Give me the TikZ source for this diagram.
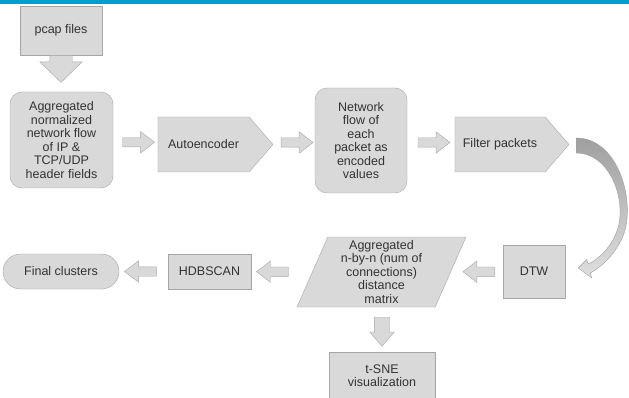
\documentclass[tikz,border=0pt]{standalone}
\usepackage{fontspec}
\setmainfont{Liberation Sans}
\usetikzlibrary{shapes.arrows, shapes.symbols, shapes.geometric, calc}
\definecolor{topbar}{RGB}{0,158,206}
\tikzset{
    box/.style={draw=gray!70, fill=gray!30, text=black!80, align=center, inner sep=1pt}, % plain step box
    roundbox/.style={box, rounded corners=12pt},
    signalbox/.style={box, signal, signal to=east, signal pointer angle=98, minimum width=115pt, minimum height=55pt},
    blk/.style={single arrow, draw=gray!70, fill=gray!30, text height=0pt, text depth=0pt, inner xsep=0pt, inner ysep=4.5pt, minimum height=32pt, single arrow head extend=6pt, single arrow tip angle=75}, % block arrow, points right
    blkleft/.style={blk, shape border rotate=180},
    blkdown/.style={blk, shape border rotate=270, minimum height=29pt, inner xsep=7.5pt, inner ysep=0pt, single arrow head extend=4.5pt, single arrow tip angle=81},
    bigdown/.style={blk, shape border rotate=270, minimum height=27pt, inner xsep=11pt, inner ysep=0pt, single arrow head extend=10pt, single arrow tip angle=92}
}

\begin{document}
\begin{tikzpicture}[x=1pt, y=-1pt, font=\fontsize{12.5}{13.5}\selectfont]
    \useasboundingbox (0,0) rectangle (629,398);
    \fill[topbar] (0,0) rectangle (629,4);

    % top row
    \node[box, minimum width=82pt, minimum height=49pt] (pcap) at (61,30.5) {pcap files};
    \node[roundbox, minimum width=103pt, minimum height=96pt] (agg) at (61.5,140) {Aggregated\\normalized\\network flow\\of IP \&\\TCP/UDP\\header fields};
    \node[signalbox] (auto) at (203.5,144.5) {Autoencoder};
    \node[roundbox, minimum width=92pt, minimum height=105pt] (net) at (361,140.5) {Network\\flow of\\each\\packet as\\encoded\\values};
    \node[signalbox, minimum width=114pt] (filter) at (500,144.5) {Filter packets};

    % bottom row
    \node[box, minimum width=62pt, minimum height=53pt] (dtw) at (534,271.5) {DTW};
    \node[box, trapezium, trapezium left angle=64, trapezium right angle=116, trapezium stretches body=true, minimum width=169pt, minimum height=70pt, inner sep=0pt] (matrix) at (381.5,272) {Aggregated\\n-by-n (num of\\connections)\\distance\\matrix};
    \node[box, minimum width=83pt, minimum height=35pt] (hdb) at (209.5,271.5) {HDBSCAN};
    \node[box, rounded corners=17.5pt, minimum width=116pt, minimum height=35pt] (final) at (61,271.5) {Final clusters};
    \node[box, minimum width=106pt, minimum height=47pt] (tsne) at (382,375.5) {t-SNE\\visualization};

    % block arrows
    \path (pcap.south) -- node[bigdown, pos=0, anchor=tail] {} (agg.north);
    \path (agg.east) -- node[blk] {} (auto.west);
    \path (auto.east) -- node[blk] {} (net.west);
    \path (net.east) -- node[blk] {} (filter.west);
    \path (dtw.west) -- node[blkleft, pos=0.4] {} (matrix.east);
    \path (matrix.west) -- node[blkleft, pos=0.6] {} (hdb.east);
    \path (hdb.west) -- node[blkleft] {} (final.east);
    \path (matrix.south -| tsne) -- node[blkdown, pos=0.45] {} (tsne.north);

    % curved arrow filter -> dtw
    \coordinate (cfrom) at ($(filter.east)+(7,0)$);
    \path[draw=gray!75, top color=gray!75, bottom color=gray!25, shift={(cfrom)}] (0,-6.5) .. controls (38,-6.5) and (56,45) .. (50,80)
        .. controls (47,100) and (30,120) .. (14,128.5) -- (15.5,133.5) -- (2,123.5) -- (10.5,115) -- (12,119.5)
        .. controls (26,113) and (40,96) .. (43,78) .. controls (48,50) and (32,8.5) .. (0,8.5) -- cycle;
\end{tikzpicture}
\end{document}
